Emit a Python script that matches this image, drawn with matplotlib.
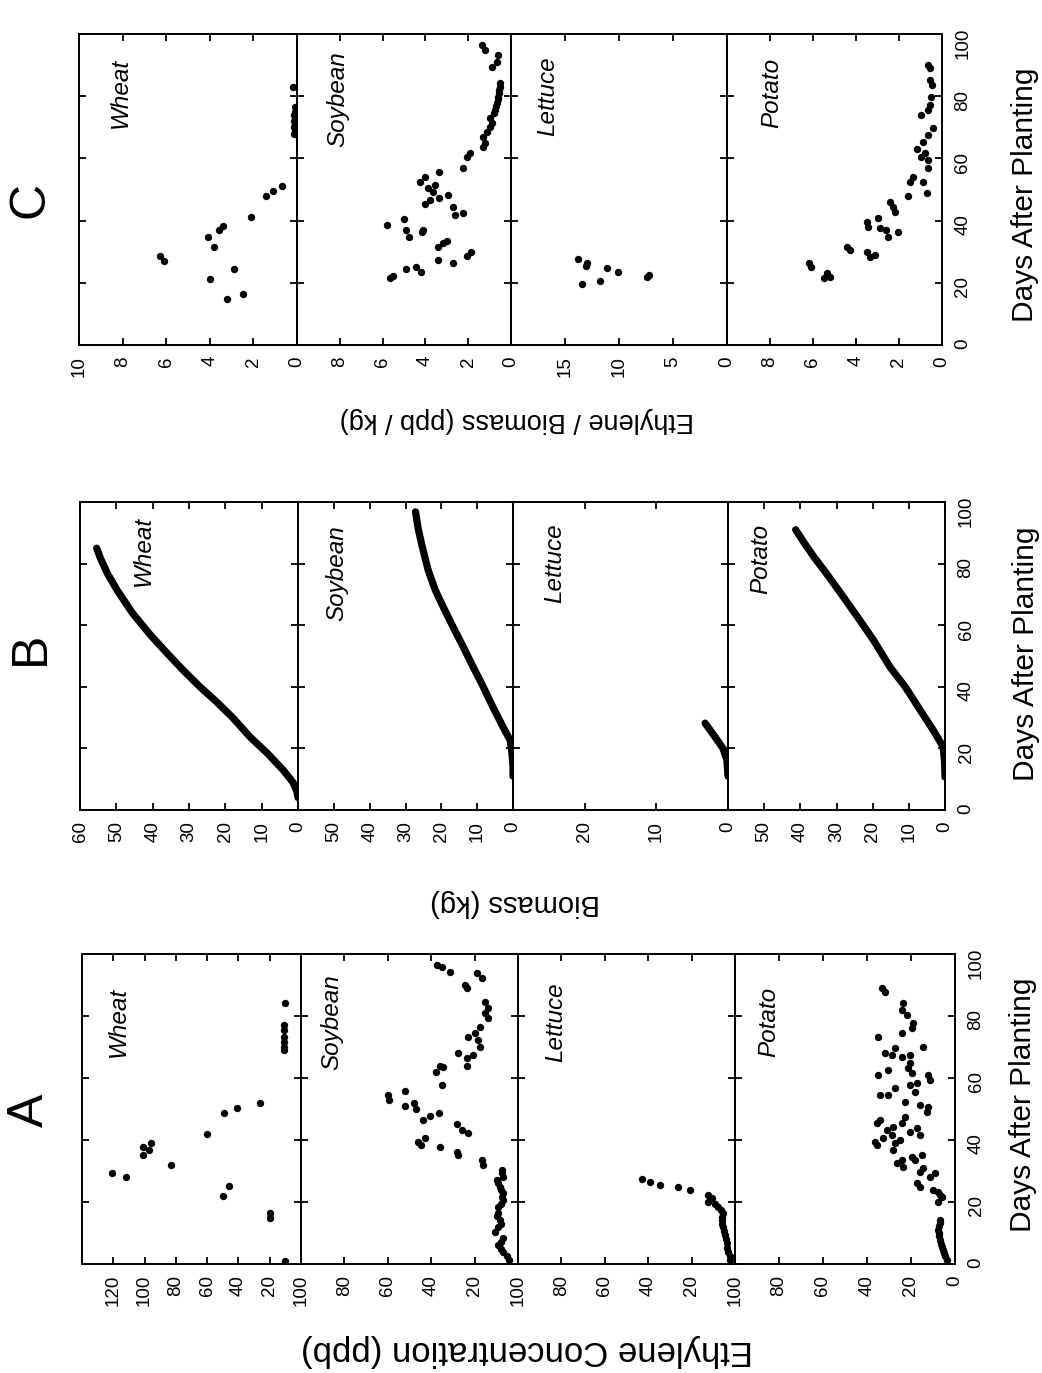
import matplotlib
matplotlib.use('Agg')
import matplotlib.pyplot as plt

plt.rcParams['font.family'] = ['Liberation Sans', 'DejaVu Sans']

# ---------------- data ----------------
crops = ['Wheat', 'Soybean', 'Lettuce', 'Potato']
day_ticks = [0, 20, 40, 60, 80, 100]

# Panel A : ethylene concentration (ppb)
a_wheat_day = [1, 14.8, 16.5, 21.9, 25.2, 28.1, 29.4, 31.9, 35.2, 36.8, 37.7, 39, 41.9, 48.7,
               50.3, 52, 69, 70, 71.6, 73.2, 75.5, 77, 84.2]
a_wheat_ppb = [10, 20, 20, 50, 46, 112, 121, 83, 101, 97, 101, 96, 60, 49,
               41, 26, 11, 11, 11, 11, 11, 11, 10]

a_soy_day = [1.3, 2.5, 3.9, 5, 6.1, 7.2, 8.4, 10.3, 11.9, 13, 14.2, 15.5, 16.5, 18.4, 19.5,
             20.6, 21.7, 22.9, 24, 24.8, 26, 27.1, 28.1, 29.2, 30.3, 31.9, 33.5, 35.2, 36.1,
             37.7, 38.4, 39.4, 40.6, 42.3, 43.2, 45.2, 46.5, 47.7, 48.7, 50, 51, 51.9, 52.9,
             54.5, 55.8, 57.7, 62, 63.5, 64, 64, 66.5, 67.4, 68, 70, 72.3, 73.2, 74.5, 76.5,
             79.4, 81, 82.6, 84.5, 89, 90, 92.3, 93.9, 94.2, 95.8, 96.5]
a_soy_ppb = [4, 5, 7, 8, 9, 8, 7, 10.5, 9, 8, 8.5, 9.5, 9, 9, 8,
             7, 7.5, 7, 8, 8.5, 9, 9.5, 7, 7.5, 7.5, 16, 16.5, 27.5, 28,
             36, 44.5, 46, 43, 23, 26, 28, 44, 40.5, 36.5, 47, 52, 48, 59.5,
             60, 52, 35, 38, 34.6, 36, 23.5, 23.5, 20.7, 27.6, 17.5, 18.4, 23, 19.8, 17.5,
             13.8, 15.2, 13.8, 15.2, 23.5, 24.4, 16.6, 18.9, 31.3, 35, 37.3]

a_let_day = [1.3, 2.5, 3.9, 5.3, 6.8, 8, 9.4, 10.6, 11.9, 13, 14.2, 15.3, 16.5, 17.4, 18.4,
             19.2, 20, 21.3, 22.3, 23.9, 24.8, 25.5, 26.5, 27.4]
a_let_ppb = [2.3, 2.5, 3.2, 3.5, 3.7, 4, 4.6, 5, 5.5, 5.8, 6, 5.8, 5.5, 6.5, 7.8,
             9, 12.4, 10.6, 12.4, 20.7, 26.3, 34.6, 39.2, 42.9]

a_pot_day = [1.3, 2.5, 3.5, 4.5, 5.5, 6.5, 7.7, 9, 10, 11, 12.2, 13.2, 14.2, 20, 21.6, 22.2,
             23.2, 23.9, 24.8, 26.1, 28.1, 29.4, 29.7, 31, 31.3, 32.6, 33.5, 33.5, 34.5, 35.2,
             36.8, 38.4, 39, 39.4, 40, 40.6, 41.6, 41.6, 42.6, 43.2, 43.9, 44.2, 45.5, 45.5,
             46.5, 47.4, 49, 50.6, 51.3, 52.3, 54.5, 54.5, 55.5, 56.8, 57.7, 58.4, 59.4, 61,
             61, 61.6, 62.6, 63.2, 64.8, 66.8, 67.4, 67.4, 68, 69.7, 70, 73.2, 74.5, 76.1,
             77.7, 80.3, 81.9, 84.2, 87.7, 89]
a_pot_ppb = [3.6, 4.5, 5, 5.5, 6, 6.3, 6.8, 7.2, 7.5, 7.7, 7.2, 7, 6.8, 7.7, 5.9, 7,
             7.7, 10, 15.9, 17.3, 11.4, 9.1, 15.9, 14.5, 23.6, 26.4, 24.1, 18.2, 19.5, 15,
             28.2, 35.5, 27.3, 36.4, 25, 32.7, 28.6, 15.9, 20.5, 30.9, 17.3, 28.2, 24.1, 35.5,
             34.1, 22.7, 12.7, 12.3, 15.9, 22.7, 30.5, 34.1, 18.2, 27.3, 20.5, 17.3, 11.4, 12.3,
             35, 19.5, 30.5, 21.4, 20.5, 24.1, 28.6, 20.5, 31.8, 27.3, 14.5, 35, 24.1, 19.5,
             19.1, 21.8, 24.1, 23.6, 31.8, 33.2]

# Panel B : biomass (kg)
b_wheat_day = [4, 6, 9, 13, 18.5, 23.7, 29.9, 35, 40, 45.5, 51, 56.8, 64, 71.4, 76.9, 81.8, 85]
b_wheat_kg = [0, 0.3, 1.4, 4.1, 8.5, 13.2, 17.9, 22.3, 27, 31.7, 36.1, 40.6, 45.6, 49.8, 52.5, 54.4, 55.4]
b_soy_day = [11, 14, 18.5, 22.7, 27, 33.4, 40, 46.4, 53, 59.4, 66, 71.4, 78, 85.4, 91, 96.8]
b_soy_kg = [0, 0, 0.3, 0.8, 2.8, 5.6, 8.3, 11.1, 13.9, 16.7, 19.5, 21.7, 23.7, 25.3, 26.4, 27.2]
b_let_day = [11, 16.2, 20, 23.7, 28.2]
b_let_kg = [0, 0.15, 0.7, 1.8, 3.2]
b_pot_day = [10.7, 15, 20.5, 26, 32.5, 40, 46.4, 55.2, 62.7, 70.5, 77, 82.1, 86.5, 91]
b_pot_kg = [0, 0.1, 0.5, 3.3, 6.9, 11, 15.2, 19.8, 24.2, 28.9, 32.9, 36.2, 38.8, 41.3]

# Panel C : ethylene / biomass (ppb / kg)
c_wheat_day = [14.8, 16.4, 21.2, 24.4, 27, 28.6, 31.5, 34.7, 37, 38.3, 41, 48, 49.5, 51,
               68, 69, 70, 71, 72, 73, 74, 75, 76.5, 83]
c_wheat_val = [3.2, 2.5, 4.0, 2.9, 6.1, 6.3, 3.8, 4.1, 3.6, 3.4, 2.1, 1.4, 1.1, 0.7,
               0.15, 0.1, 0.15, 0.1, 0.15, 0.1, 0.15, 0.1, 0.1, 0.2]
c_soy_day = [21.5, 22.2, 23.5, 24.5, 25, 26.4, 27.3, 28.6, 30, 31.5, 32.8, 33.5, 34.7, 36.3,
             37, 37, 38.6, 40.5, 41.8, 42.4, 44.4, 45.3, 46.6, 47.2, 48.2, 49.2, 50.5, 51.4,
             52.4, 54, 55.6, 56.9, 60.5, 61.7, 63.7, 65, 67, 68.5, 70, 71.4, 73, 74.5, 75.6,
             77, 77.8, 79, 79.7, 81, 82, 83, 84.2, 89.4, 91, 93.2, 94.9, 96.5]
c_soy_val = [5.65, 5.5, 4.2, 4.9, 4.45, 2.7, 3.4, 2.05, 1.85, 3.4, 3.2, 3.0, 4.75, 4.15,
             4.9, 4.1, 5.8, 5.0, 2.6, 2.25, 2.7, 4.0, 3.8, 3.35, 2.95, 3.65, 3.9, 3.55,
             4.25, 4.0, 3.35, 2.25, 2.05, 1.9, 1.3, 1.2, 1.3, 1.1, 1.0, 0.9, 1.0, 0.8, 0.75,
             0.7, 0.65, 0.6, 0.6, 0.55, 0.55, 0.5, 0.5, 0.9, 0.65, 0.6, 1.2, 1.35]
c_let_day = [19.6, 20.6, 21.9, 22.5, 23.5, 24.8, 25.4, 26.4, 27.6]
c_let_val = [13.4, 11.8, 7.4, 7.2, 10.1, 11.1, 13.1, 13.0, 13.8]
c_pot_day = [21.5, 21.9, 23.2, 25.1, 26.4, 28.3, 29, 30, 30.5, 31.5, 34.7, 36.3, 37, 37.6,
             38, 39.5, 40.8, 42.8, 44.4, 46, 48, 48.9, 52.4, 52.4, 54, 56.9, 59.5, 60.5,
             61.7, 63, 65.3, 67.5, 69.8, 74, 75.6, 77.2, 79.7, 83.6, 85.2, 89, 90]
c_pot_val = [5.5, 5.2, 5.35, 6.1, 6.2, 3.35, 3.1, 3.5, 4.3, 4.4, 2.5, 2.05, 2.6, 2.9,
             3.45, 3.5, 3.0, 2.2, 2.3, 2.4, 1.6, 0.7, 1.5, 0.9, 1.35, 0.65, 0.65, 1.0,
             0.8, 1.15, 0.9, 0.65, 0.4, 1.0, 0.65, 0.55, 0.5, 0.45, 0.55, 0.55, 0.65]

# axis scales (value limits, tick values, tick labels)
a_limits = [140, 100, 100, 100]
a_ticks = [[0, 20, 40, 60, 80, 100, 120, 140], [0, 20, 40, 60, 80, 100],
           [0, 20, 40, 60, 80, 100], [0, 20, 40, 60, 80, 100]]
a_labels = [['', '20', '40', '60', '80', '100', '120', ''], ['', '20', '40', '60', '80', '100'],
            ['', '20', '40', '60', '80', '100'], ['0', '20', '40', '60', '80', '100']]
b_limits = [60, 60, 30, 60]
b_ticks = [[0, 10, 20, 30, 40, 50, 60], [0, 10, 20, 30, 40, 50, 60], [0, 10, 20, 30],
           [0, 10, 20, 30, 40, 50, 60]]
b_labels = [['0', '10', '20', '30', '40', '50', '60'], ['0', '10', '20', '30', '40', '50', ''],
            ['0', '10', '20', ''], ['0', '10', '20', '30', '40', '50', '']]
c_limits = [10, 10, 20, 10]
c_ticks = [[0, 2, 4, 6, 8, 10], [0, 2, 4, 6, 8, 10], [0, 5, 10, 15, 20], [0, 2, 4, 6, 8, 10]]
c_labels = [['0', '2', '4', '6', '8', '10'], ['0', '2', '4', '6', '8', ''],
            ['0', '5', '10', '15', ''], ['0', '2', '4', '6', '8', '']]

# ---------------- figure ----------------
W, H = 1042, 1373
fig = plt.figure(figsize=(W / 100, H / 100), dpi=100)


def fx(px):
    return px / W


def fy(py):
    return 1 - py / H


def make_group(xedges, ytop, ybot, limits, ticks, labels, series, kind, name_pos):
    axes = []
    for i in range(4):
        ax = fig.add_axes([fx(xedges[i]), fy(ybot), (xedges[i + 1] - xedges[i]) / W,
                           (ybot - ytop) / H])
        ax.set_xlim(limits[i], 0)
        ax.set_ylim(0, 100)
        ax.set_xticks(ticks[i])
        ax.set_xticklabels(labels[i])
        ax.set_yticks(day_ticks)
        ax.set_yticklabels([str(d) for d in day_ticks])
        ax.tick_params(axis='x', direction='in', top=True, bottom=True, length=5, width=1.3,
                       labelrotation=90, labelsize=13.5, pad=8)
        ax.tick_params(axis='y', direction='in', left=True, right=True, length=5, width=1.3,
                       labelleft=False, labelright=(i == 3), labelrotation=90,
                       labelsize=13.5, pad=9)
        for sp in ax.spines.values():
            sp.set_linewidth(1.4)
        d, v = series[i]
        if kind == 'line':
            ax.plot(v, d, '-', color='black', lw=5.2, solid_capstyle='round',
                    solid_joinstyle='round')
        else:
            ax.plot(v, d, 'o', color='black', ms=5.3, mew=0)
        px, py = name_pos[i]
        ax.text(px, py, crops[i], transform=ax.transAxes, rotation=90, style='italic',
                fontsize=17.5, ha='center', va='center')
        axes.append(ax)
    return axes


make_group([82, 301, 518, 735, 955], 954, 1264, a_limits, a_ticks, a_labels,
           [(a_wheat_day, a_wheat_ppb), (a_soy_day, a_soy_ppb),
            (a_let_day, a_let_ppb), (a_pot_day, a_pot_ppb)],
           'dots', [(0.165, 0.78), (0.14, 0.78), (0.175, 0.78), (0.155, 0.78)])

make_group([80, 298, 513, 728, 945], 502, 810, b_limits, b_ticks, b_labels,
           [(b_wheat_day, b_wheat_kg), (b_soy_day, b_soy_kg),
            (b_let_day, b_let_kg), (b_pot_day, b_pot_kg)],
           'line', [(0.29, 0.84), (0.18, 0.77), (0.195, 0.80), (0.15, 0.815)])

make_group([79, 297, 511, 727, 942], 34, 345, c_limits, c_ticks, c_labels,
           [(c_wheat_day, c_wheat_val), (c_soy_day, c_soy_val),
            (c_let_day, c_let_val), (c_pot_day, c_pot_val)],
           'dots', [(0.19, 0.81), (0.19, 0.79), (0.17, 0.80), (0.21, 0.81)])

# panel letters
for letter, (x, y) in zip(['A', 'B', 'C'], [(30, 1110), (31, 648), (30, 200)]):
    fig.text(fx(x), fy(y), letter, rotation=90, fontsize=36, ha='center', va='center')

# axis titles
for (x, y) in [(1023, 1105), (1026, 654), (1025, 195)]:
    fig.text(fx(x), fy(y), 'Days After Planting', rotation=90, fontsize=21.5,
             ha='center', va='center')

fig.text(fx(527), fy(1350), 'Ethylene Concentration (ppb)', rotation=180, fontsize=25,
         ha='center', va='center')
fig.text(fx(515), fy(903), 'Biomass (kg)', rotation=180, fontsize=21,
         ha='center', va='center')
fig.text(fx(517), fy(420), 'Ethylene / Biomass (ppb / kg)', rotation=180, fontsize=19.5,
         ha='center', va='center')

fig.savefig('out.png', dpi=100)
